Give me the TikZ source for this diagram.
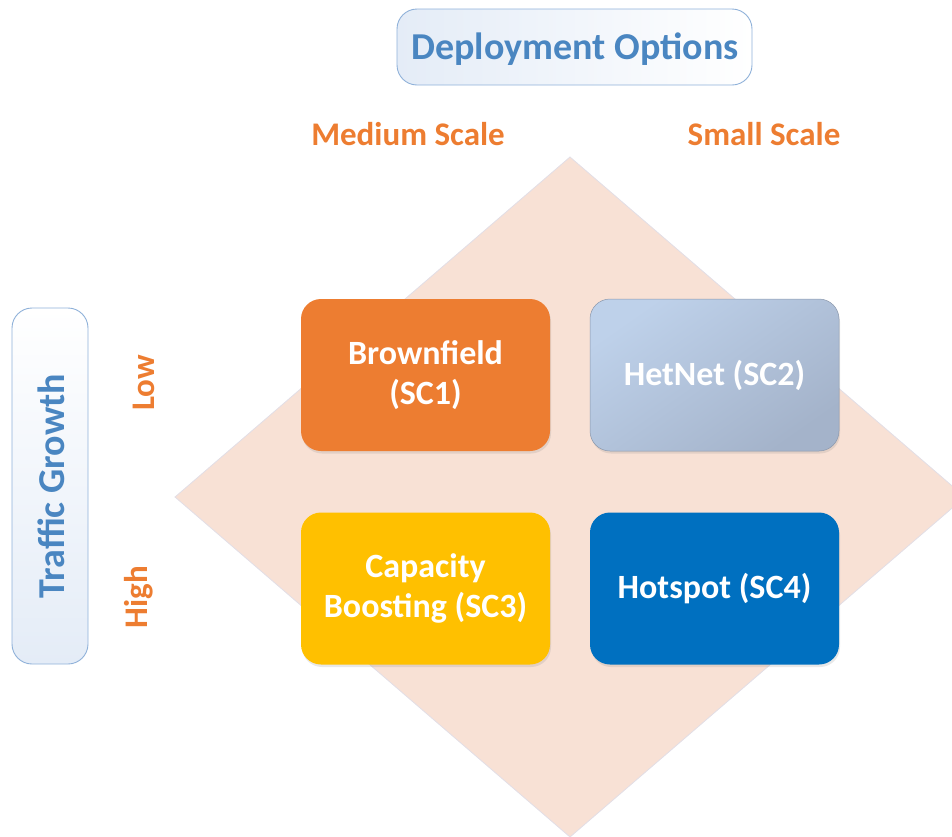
\documentclass[tikz,border=0pt]{standalone}
\usepackage{fontspec}
\setmainfont{Carlito}
\usetikzlibrary{shadows}

\definecolor{peach}{HTML}{F8E1D5}
\definecolor{peachedge}{HTML}{E2DEE6}
\definecolor{orangetxt}{HTML}{ED7D31}
\definecolor{titleblue}{HTML}{4A86C1}
\definecolor{boxedge}{HTML}{8FB1D9}
\definecolor{boxtint}{HTML}{E4ECF7}
\definecolor{sconeorange}{HTML}{ED7D31}
\definecolor{sctwotop}{HTML}{BED1EA}
\definecolor{sctwobot}{HTML}{A4B3CA}
\definecolor{scthreeyellow}{HTML}{FFC000}
\definecolor{scfourblue}{HTML}{0070C0}

\begin{document}
\begin{tikzpicture}[x=1pt,y=-1pt,
  quad/.style={rounded corners=20pt, minimum width=249pt, minimum height=152pt,
    text=white, align=center, inner sep=0pt,
    font=\fontsize{34}{40}\selectfont\bfseries,
    drop shadow={opacity=0.18, shadow xshift=1pt, shadow yshift=-2.5pt}},
  axisbox/.style={draw=boxedge, line width=0.9pt, rounded corners=20pt, inner sep=0pt},
  axistext/.style={text=titleblue, inner sep=0pt,
    font=\fontsize{38}{44}\selectfont\bfseries},
  scalelbl/.style={text=orangetxt, inner sep=0pt,
    font=\fontsize{33}{38}\selectfont\bfseries}
]
\useasboundingbox (0,0) rectangle (952,836);

% background diamond, cut off by the page edges
\begin{scope}
  \clip (0,0) rectangle (952,836);
  \fill[peach, draw=peachedge, line width=0.8pt]
    (570,157) -- (965,497) -- (570,837) -- (175,497) -- cycle;
\end{scope}

% axis titles
\node[axisbox, minimum width=355pt, minimum height=76pt,
      left color=boxtint, right color=white] (deploy) at (574.5,47) {};
\node[axistext] (deploytxt) at (575,49) {Deployment Options};
\node[axisbox, minimum width=76pt, minimum height=356pt,
      top color=white, bottom color=boxtint] (traffic) at (50,486) {};
\node[axistext, rotate=90] (traffictxt) at (51,486) {Traffic Growth};

% axis values
\node[scalelbl] (medium) at (408,134) {Medium Scale};
\node[scalelbl] (small) at (764,134) {Small Scale};
\node[scalelbl, rotate=90] (low) at (144,383) {Low};
\node[scalelbl, rotate=90] (high) at (139,597) {High};

% the four scenarios
\node[quad, fill=sconeorange] (sc1) at (425.5,375) {Brownfield\\(SC1)};
\node[quad, top color=sctwotop, bottom color=sctwobot, shading angle=35,
      draw=sctwobot!85!black, line width=0.5pt]
  (sc2) at (714.5,375) {HetNet (SC2)};
\node[quad, fill=scthreeyellow] (sc3) at (425.5,588.5) {Capacity\\Boosting (SC3)};
\node[quad, fill=scfourblue] (sc4) at (714.5,588.5) {Hotspot (SC4)};
\end{tikzpicture}
\end{document}
